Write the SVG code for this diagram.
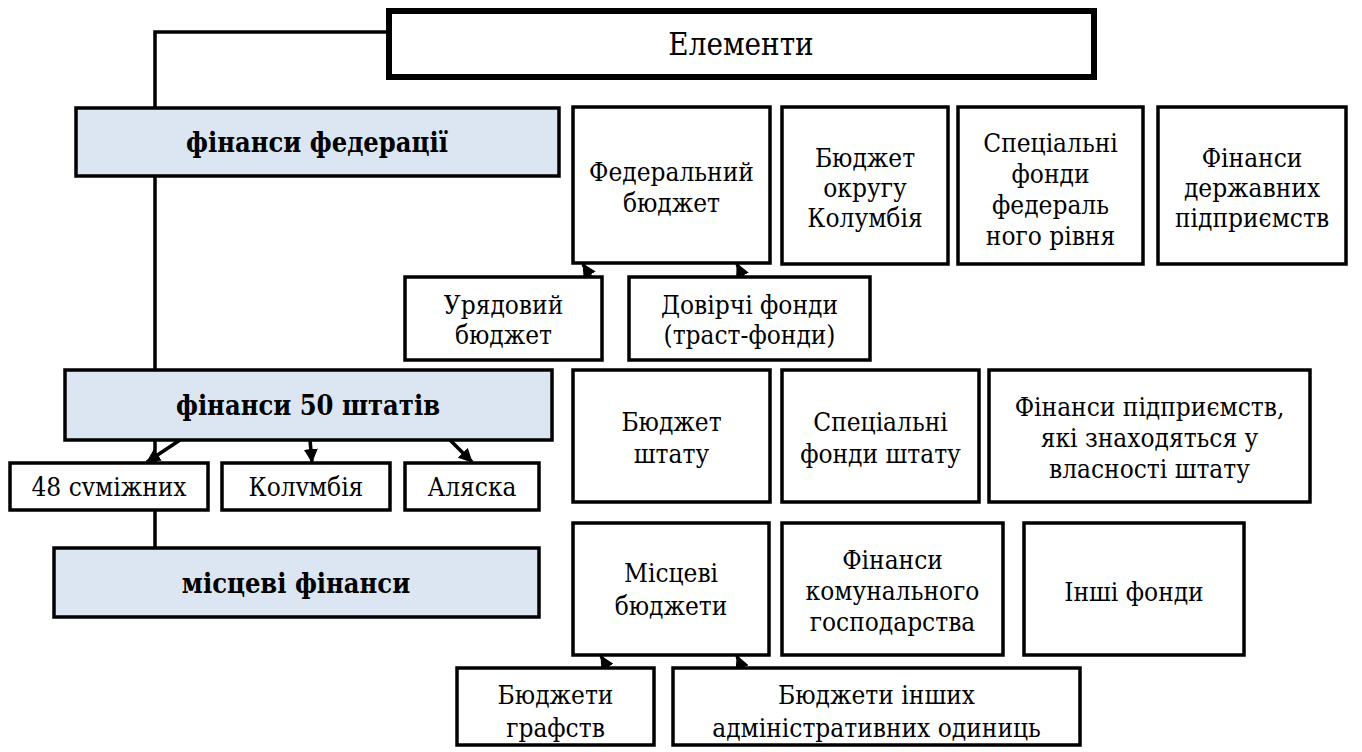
<svg xmlns="http://www.w3.org/2000/svg" width="1362" height="752" viewBox="0 0 1362 752">
<defs>
<style>
.box{fill:#ffffff;stroke:#000;stroke-width:3.5}
.blue{fill:#dce6f2;stroke:#000;stroke-width:3.5}
.thick{fill:#ffffff;stroke:#000;stroke-width:6}
.t{font-family:'DejaVu Serif',serif;font-stretch:condensed;font-size:26px;fill:#000;text-anchor:middle}
.b{font-family:'DejaVu Serif',serif;font-stretch:condensed;font-size:27px;font-weight:bold;fill:#000;text-anchor:middle}
.big{font-family:'DejaVu Serif',serif;font-stretch:condensed;font-size:31px;fill:#000;text-anchor:middle}
.ln{fill:none;stroke:#000;stroke-width:3.5}
</style>
<marker id="ah" markerUnits="userSpaceOnUse" markerWidth="14" markerHeight="14" viewBox="0 0 14 14" refX="13" refY="7" orient="auto">
<path d="M0,0 L14,7 L0,14 Z" fill="#000"/>
</marker>
</defs>
<rect width="1362" height="752" fill="#ffffff"/>
<g id="connectors">
<polyline class="ln" points="389,32 155,32 155,108"/>
<line class="ln" x1="155" y1="176" x2="155" y2="548"/>
<line class="ln" x1="180" y1="440" x2="147" y2="462" marker-end="url(#ah)"/>
<line class="ln" x1="310" y1="440" x2="312" y2="462" marker-end="url(#ah)"/>
<line class="ln" x1="450" y1="440" x2="472" y2="462" marker-end="url(#ah)"/>
<line class="ln" x1="592" y1="279" x2="583" y2="264" marker-end="url(#ah)"/>
<line class="ln" x1="744" y1="279" x2="737" y2="264" marker-end="url(#ah)"/>
<line class="ln" x1="609" y1="670" x2="601" y2="656" marker-end="url(#ah)"/>
<line class="ln" x1="743" y1="670" x2="737" y2="656" marker-end="url(#ah)"/>
</g>
<g id="n-elementy"><rect class="thick" x="389" y="11" width="705" height="66"/><text class="big" x="741" y="55">Елементи</text></g>
<g id="n-fed"><rect class="blue" x="76" y="108" width="483" height="68"/><text class="b" x="317" y="152">фінанси федерації</text></g>
<g id="n-fedbudget"><rect class="box" x="573" y="107" width="197" height="156"/><text class="t" x="671.5" y="181">Федеральний</text><text class="t" x="671.5" y="212">бюджет</text></g>
<g id="n-columbia"><rect class="box" x="782" y="107" width="166" height="157"/><text class="t" x="865" y="167">Бюджет</text><text class="t" x="865" y="197">округу</text><text class="t" x="865" y="227">Колумбія</text></g>
<g id="n-specfed"><rect class="box" x="958" y="107" width="185" height="157"/><text class="t" x="1050.5" y="152">Спеціальні</text><text class="t" x="1050.5" y="183">фонди</text><text class="t" x="1050.5" y="214">федераль</text><text class="t" x="1050.5" y="245">ного рівня</text></g>
<g id="n-derzh"><rect class="box" x="1158" y="107" width="188" height="157"/><text class="t" x="1252" y="167">Фінанси</text><text class="t" x="1252" y="197">державних</text><text class="t" x="1252" y="227">підприємств</text></g>
<g id="n-uriad"><rect class="box" x="405" y="277" width="197" height="83"/><text class="t" x="503.5" y="314">Урядовий</text><text class="t" x="503.5" y="344">бюджет</text></g>
<g id="n-trust"><rect class="box" x="629" y="277" width="241" height="83"/><text class="t" x="749.5" y="314">Довірчі фонди</text><text class="t" x="749.5" y="344">(траст-фонди)</text></g>
<g id="n-states"><rect class="blue" x="65" y="370" width="487" height="70"/><text class="b" x="308" y="415">фінанси 50 штатів</text></g>
<g id="n-statebudget"><rect class="box" x="573" y="370" width="197" height="132"/><text class="t" x="671.5" y="431">Бюджет</text><text class="t" x="671.5" y="463">штату</text></g>
<g id="n-statespec"><rect class="box" x="782" y="370" width="197" height="132"/><text class="t" x="880.5" y="431">Спеціальні</text><text class="t" x="880.5" y="463">фонди штату</text></g>
<g id="n-stateent"><rect class="box" x="989" y="370" width="321" height="132"/><text class="t" x="1149.5" y="416">Фінанси підприємств,</text><text class="t" x="1149.5" y="447">які знаходяться у</text><text class="t" x="1149.5" y="478">власності штату</text></g>
<g id="n-48"><rect class="box" x="10" y="463" width="198" height="47"/><text class="t" x="109" y="496">48 сvміжних</text></g>
<g id="n-kolumbia"><rect class="box" x="222" y="463" width="168" height="47"/><text class="t" x="306" y="496">Колvмбія</text></g>
<g id="n-alaska"><rect class="box" x="405" y="463" width="134" height="47"/><text class="t" x="472" y="496">Аляска</text></g>
<g id="n-local"><rect class="blue" x="54" y="548" width="485" height="69"/><text class="b" x="296" y="593">місцеві фінанси</text></g>
<g id="n-localbudget"><rect class="box" x="573" y="523" width="196" height="132"/><text class="t" x="671" y="582">Місцеві</text><text class="t" x="671" y="615">бюджети</text></g>
<g id="n-komunal"><rect class="box" x="782" y="523" width="221" height="132"/><text class="t" x="892.5" y="569">Фінанси</text><text class="t" x="892.5" y="600">комунального</text><text class="t" x="892.5" y="631">господарства</text></g>
<g id="n-other"><rect class="box" x="1024" y="523" width="220" height="132"/><text class="t" x="1134" y="601">Інші фонди</text></g>
<g id="n-grafstva"><rect class="box" x="457" y="668" width="197" height="77"/><text class="t" x="555.5" y="704">Бюджети</text><text class="t" x="555.5" y="737">графств</text></g>
<g id="n-adminunits"><rect class="box" x="673" y="668" width="407" height="77"/><text class="t" x="876.5" y="704">Бюджети інших</text><text class="t" x="876.5" y="737">адміністративних одиниць</text></g>
</svg>
